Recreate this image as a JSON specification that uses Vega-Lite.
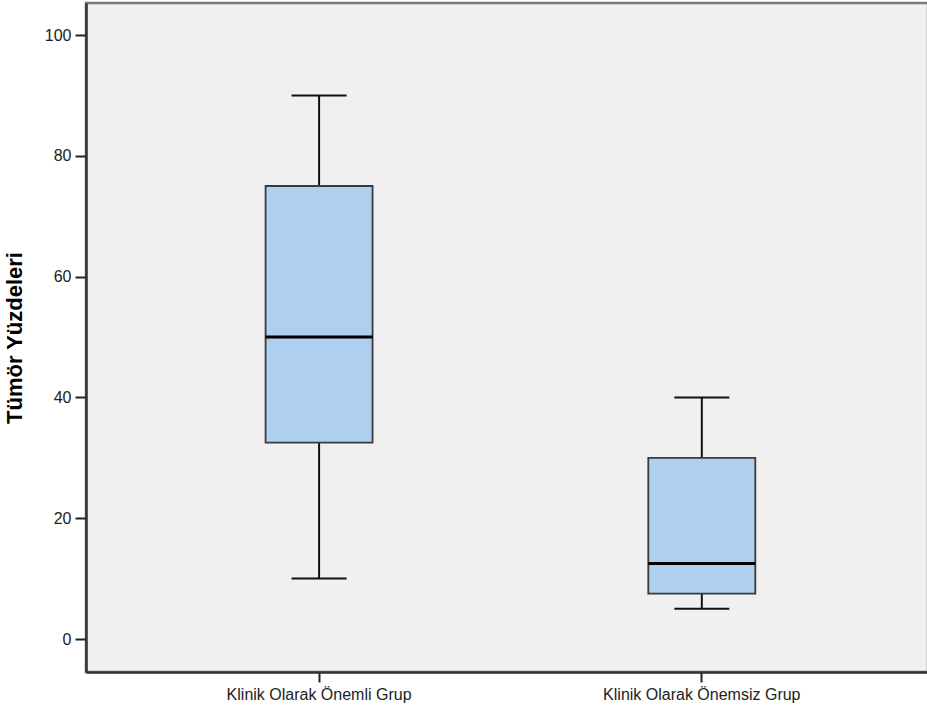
{
  "$schema": "https://vega.github.io/schema/vega-lite/v6.json",
  "width": 842,
  "height": 669,
  "autosize": {"type": "none"},
  "padding": {"left": 86, "top": 3, "right": 0, "bottom": 36},
  "background": "white",
  "config": {
    "view": {"fill": "#f0f0f0", "stroke": "#7a7a7a", "strokeWidth": 2.5},
    "font": "Liberation Sans"
  },
  "data": {
    "values": [
      {"grup": "Klinik Olarak Önemli Grup", "lower": 10, "q1": 32.5, "median": 50, "q3": 75, "upper": 90},
      {"grup": "Klinik Olarak Önemsiz Grup", "lower": 5, "q1": 7.5, "median": 12.5, "q3": 30, "upper": 40}
    ]
  },
  "encoding": {
    "x": {
      "field": "grup",
      "type": "nominal",
      "sort": null,
      "scale": {"paddingInner": 0, "paddingOuter": 0.1, "align": 0.545},
      "axis": {
        "title": null,
        "labelAngle": 0,
        "labelFontSize": 16,
        "labelLimit": 0,
        "labelColor": "#222",
        "labelPadding": 4,
        "tickSize": 10,
        "tickColor": "#222",
        "tickWidth": 2,
        "domainColor": "#333",
        "domainWidth": 2.5,
        "grid": false
      }
    }
  },
  "layer": [
    {
      "mark": {"type": "rule", "color": "#111", "strokeWidth": 2},
      "encoding": {
        "y": {
          "field": "lower",
          "type": "quantitative",
          "scale": {"domain": [-5.46, 105.3], "nice": false, "zero": false},
          "axis": {
            "values": [0, 20, 40, 60, 80, 100],
            "title": "Tümör Yüzdeleri",
            "titleFontSize": 22,
            "titleFontWeight": "bold",
            "titleColor": "#000",
            "titleX": -60,
            "labelFontSize": 16,
            "labelColor": "#222",
            "labelPadding": 4,
            "tickSize": 11,
            "tickColor": "#222",
            "tickWidth": 2,
            "domainColor": "#333",
            "domainWidth": 2.5,
            "grid": false
          }
        },
        "y2": {"field": "upper"}
      }
    },
    {
      "mark": {"type": "bar", "size": 107, "fill": "#aecfee", "stroke": "#3a3a3a", "strokeWidth": 1.8},
      "encoding": {
        "y": {"field": "q1", "type": "quantitative"},
        "y2": {"field": "q3"}
      }
    },
    {
      "mark": {"type": "tick", "size": 107, "thickness": 3, "color": "#000", "opacity": 1},
      "encoding": {"y": {"field": "median", "type": "quantitative"}}
    },
    {
      "mark": {"type": "tick", "size": 55, "thickness": 2, "color": "#111", "opacity": 1},
      "encoding": {"y": {"field": "lower", "type": "quantitative"}}
    },
    {
      "mark": {"type": "tick", "size": 55, "thickness": 2, "color": "#111", "opacity": 1},
      "encoding": {"y": {"field": "upper", "type": "quantitative"}}
    }
  ]
}
